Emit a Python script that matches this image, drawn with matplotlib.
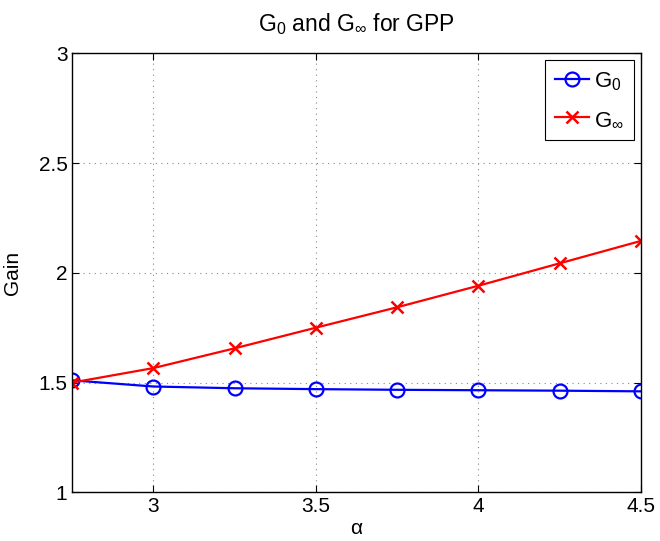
import numpy as np
import matplotlib
matplotlib.use('Agg')
import matplotlib.pyplot as plt

# Donnees
alpha = [2.75, 3.0, 3.25, 3.5, 3.75, 4.0, 4.25, 4.5]
G_0 = [1.51, 1.482, 1.474, 1.470, 1.467, 1.465, 1.463, 1.460]
G_inf = [1.50, 1.566, 1.656, 1.750, 1.843, 1.941, 2.043, 2.145]

x_ticks = [3, 3.5, 4, 4.5]
y_ticks = [1, 1.5, 2, 2.5, 3]

plt.rcParams['font.family'] = ['Liberation Sans', 'DejaVu Sans']
plt.rcParams['mathtext.default'] = 'regular'

fig = plt.figure(figsize=(6.6, 5.41), dpi=100)
ax = fig.add_axes([0.1095, 0.09, 0.8613, 0.8115])

ax.plot(alpha, G_0, '-o', color='#0000ff', lw=1.6, ms=10, mew=1.6,
        mfc='none', label='G$_0$')
ax.plot(alpha, G_inf, '-x', color='#ff0000', lw=1.6, ms=8, mew=1.8,
        label='G$_\\infty$')

ax.set_xlim(2.75, 4.5)
ax.set_ylim(1, 3)
ax.set_xticks(x_ticks)
ax.set_xticklabels(['3', '3.5', '4', '4.5'])
ax.set_yticks(y_ticks)
ax.set_yticklabels(['1', '1.5', '2', '2.5', '3'])
ax.tick_params(direction='in', top=True, right=True, labelsize=15,
               length=5, width=0.8)
ax.grid(True, linestyle=(0, (1, 4)), color='#888888', lw=0.8)
for s in ax.spines.values():
    s.set_linewidth(1.0)

ax.set_title('G$_0$ and G$_\\infty$ for GPP', fontsize=16.5, pad=16)
ax.set_xlabel('α', fontsize=15, labelpad=2)
ax.set_ylabel('Gain', fontsize=15, labelpad=12)

leg = ax.legend(loc='upper right', fontsize=16, fancybox=False,
                edgecolor='black', framealpha=1, handlelength=1.5,
                borderpad=0.45, labelspacing=0.75, handletextpad=0.25,
                borderaxespad=0.3)
leg.get_frame().set_linewidth(0.8)

fig.savefig('out.png', dpi=100)
